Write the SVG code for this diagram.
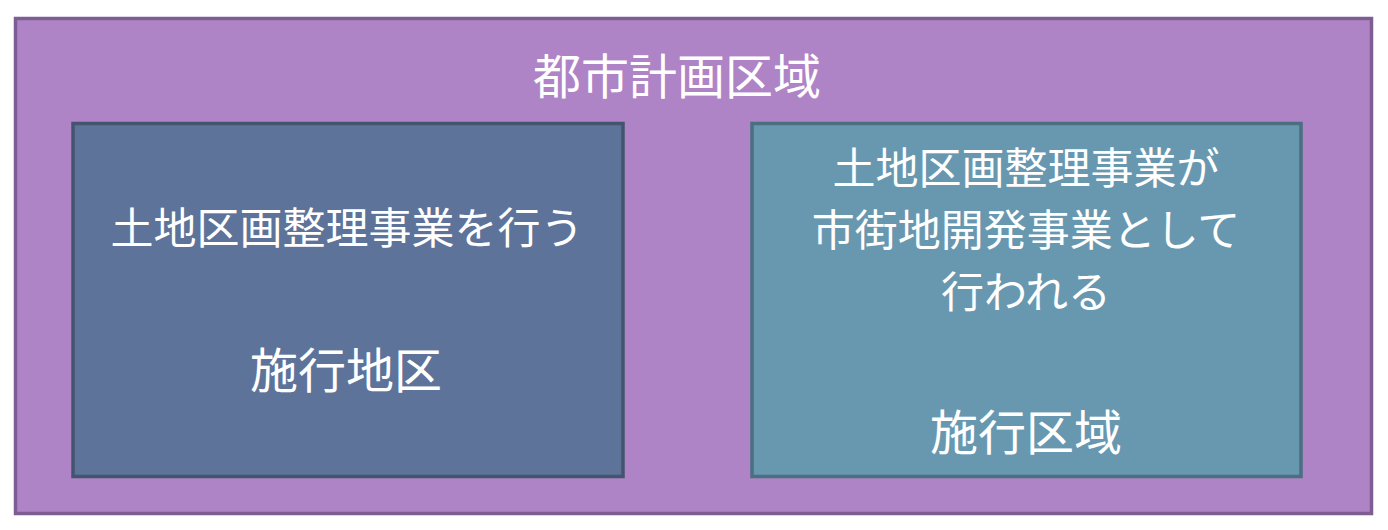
<svg xmlns="http://www.w3.org/2000/svg" width="1388" height="530" viewBox="0 0 1388 530">
<style>
text{font-family:"Noto Sans CJK JP","Noto Sans CJK SC",sans-serif;fill:#ffffff;text-anchor:middle}
.t{font-size:48px}
.s{font-size:43px}
</style>
<rect width="1388" height="530" fill="#ffffff"/>
<g id="city">
<rect x="15.5" y="18.5" width="1356" height="495" fill="#ae84c6" stroke="#7e5e92" stroke-width="3.5"/>
<text class="t" x="677" y="94">都市計画区域</text>
</g>
<g id="district">
<rect x="73" y="123.5" width="550" height="353" fill="#5d7399" stroke="#44546f" stroke-width="3.5"/>
<text class="s" x="347" y="244">土地区画整理事業を行う</text>
<text class="t" x="346" y="388">施行地区</text>
</g>
<g id="area">
<rect x="752" y="123.5" width="549" height="353" fill="#6898b0" stroke="#4a6f80" stroke-width="3.5"/>
<text class="s" x="1026" y="184">土地区画整理事業が</text>
<text class="s" x="1026" y="246">市街地開発事業として</text>
<text class="s" x="1026" y="308">行われる</text>
<text class="t" x="1026" y="450">施行区域</text>
</g>
<g id="connectors"></g>
</svg>
